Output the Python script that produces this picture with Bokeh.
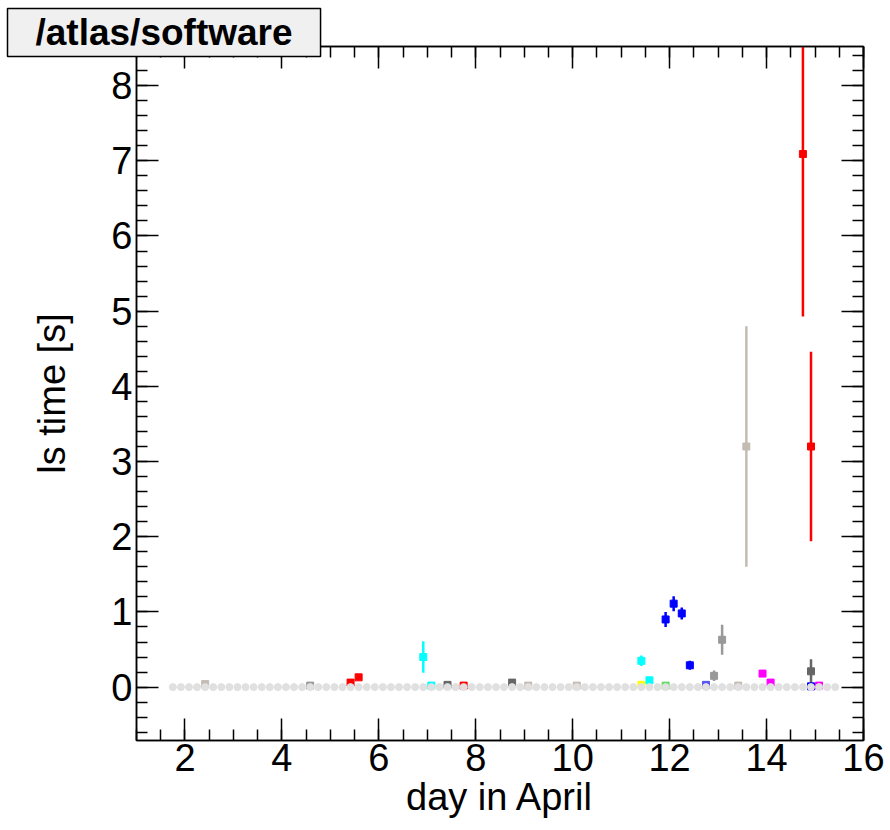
import numpy as np
from bokeh.plotting import figure
from bokeh.models import FixedTicker, LinearAxis, Range1d
from bokeh.embed import file_html
from bokeh.resources import INLINE

# ---- data (day in April, ls time [s], error) ----
# regular 4-hour time bins, all at zero (background series)
bin_start = 1.75
bin_step = 1.0 / 6
n_bins = 83
bin_days = bin_start + bin_step * np.arange(n_bins)
bin_vals = [0.0] * n_bins

red_days = [5.417, 5.583, 7.75, 14.75, 14.917]
red_vals = [0.06, 0.13, 0.02, 7.09, 3.20]
red_errs = [0.01, 0.02, 0.01, 2.16, 1.26]

cyan_days = [6.917, 7.083, 11.417, 11.583]
cyan_vals = [0.40, 0.02, 0.35, 0.09]
cyan_errs = [0.21, 0.01, 0.07, 0.03]

blue_days = [11.917, 12.083, 12.25, 12.417, 14.917]
blue_vals = [0.90, 1.11, 0.98, 0.29, 0.01]
blue_errs = [0.10, 0.10, 0.08, 0.06, 0.01]

slate_days = [12.75]
slate_vals = [0.03]
slate_errs = [0.01]

magenta_days = [13.917, 14.083, 15.083]
magenta_vals = [0.18, 0.06, 0.02]
magenta_errs = [0.03, 0.02, 0.01]

yellow_days = [11.417]
yellow_vals = [0.03]
yellow_errs = [0.01]

green_days = [11.917]
green_vals = [0.02]
green_errs = [0.01]

gray_days = [4.583, 12.917, 13.083]
gray_vals = [0.02, 0.15, 0.63]
gray_errs = [0.01, 0.07, 0.20]

dgray_days = [7.417, 8.75, 14.917]
dgray_vals = [0.03, 0.06, 0.21]
dgray_errs = [0.01, 0.02, 0.16]

tan_days = [2.417, 9.083, 10.083, 13.417, 13.583]
tan_vals = [0.04, 0.02, 0.02, 0.02, 3.20]
tan_errs = [0.01, 0.01, 0.01, 0.01, 1.60]

x_ticks = [2, 4, 6, 8, 10, 12, 14, 16]
y_ticks = [0, 1, 2, 3, 4, 5, 6, 7, 8]

series = [
    (tan_days, tan_vals, tan_errs, "#c4bbb3"),
    (gray_days, gray_vals, gray_errs, "#999999"),
    (dgray_days, dgray_vals, dgray_errs, "#666666"),
    (yellow_days, yellow_vals, yellow_errs, "#ffff00"),
    (green_days, green_vals, green_errs, "#66dd66"),
    (cyan_days, cyan_vals, cyan_errs, "#00ffff"),
    (blue_days, blue_vals, blue_errs, "#0000ff"),
    (slate_days, slate_vals, slate_errs, "#5555ee"),
    (magenta_days, magenta_vals, magenta_errs, "#ff00ff"),
    (red_days, red_vals, red_errs, "#ff0000"),
]

FONT = "Liberation Sans"

p = figure(width=890, height=830, output_backend="svg", toolbar_location=None,
           x_range=Range1d(1.0, 16.0), y_range=Range1d(-0.71, 8.52),
           min_border_left=136, min_border_right=27, min_border_top=46,
           min_border_bottom=90, title="/atlas/software")
p.background_fill_color = "white"
p.border_fill_color = "white"
p.outline_line_color = "black"
p.outline_line_width = 1.5
p.grid.visible = False

# title box (ROOT-style pave)
t = p.title
t.text_font = FONT
t.text_font_size = "37px"
t.text_font_style = "bold"
t.text_color = "black"
t.align = "left"
t.vertical_align = "bottom"
t.offset = -129
t.standoff = -20
t.background_fill_color = "#f0f0f0"
t.border_line_color = "black"
t.border_line_width = 1.5
t.padding = dict(left=28, right=28, top=3, bottom=4)

for d, v, e, c in series:
    d = np.array(d); v = np.array(v); e = np.array(e)
    p.segment(x0=d, y0=v - e, x1=d, y1=v + e, line_color=c, line_width=2.5)
    p.scatter(x=d, y=v, marker="square", size=7, fill_color=c, line_color=c)

p.scatter(x=bin_days, y=bin_vals, marker="circle", size=7,
          fill_color="#e0e0e0", line_color="#e0e0e0")

xt = FixedTicker(ticks=x_ticks, minor_ticks=list(np.arange(1.0, 16.01, 0.5)))
yt = FixedTicker(ticks=y_ticks, minor_ticks=list(np.round(np.arange(-0.6, 8.51, 0.2), 2)))


def style(ax, labels=True):
    ax.axis_line_color = "black"
    ax.axis_line_width = 1.5
    ax.major_tick_line_color = "black"
    ax.minor_tick_line_color = "black"
    ax.major_tick_line_width = 1.5
    ax.minor_tick_line_width = 1.5
    ax.major_tick_in = 22
    ax.major_tick_out = 0
    ax.minor_tick_in = 11
    ax.minor_tick_out = 0
    if labels:
        ax.major_label_text_font = FONT
        ax.major_label_text_font_size = "38px"
        ax.major_label_text_color = "black"
        ax.axis_label_text_font = FONT
        ax.axis_label_text_font_size = "38px"
        ax.axis_label_text_font_style = "normal"
        ax.axis_label_text_color = "black"
    else:
        ax.major_label_text_font_size = "1px"
        ax.major_label_text_color = None
        ax.major_label_standoff = 0


p.xaxis[0].ticker = xt
p.yaxis[0].ticker = yt
style(p.xaxis[0])
style(p.yaxis[0])
p.xaxis[0].major_label_standoff = 3
p.yaxis[0].major_label_standoff = 4
p.xaxis[0].axis_label = "day in April"
p.xaxis[0].axis_label_standoff = 2
p.yaxis[0].axis_label = "ls time [s]"
p.yaxis[0].axis_label_standoff = 35

top = LinearAxis(ticker=xt)
style(top, labels=False)
p.add_layout(top, "above")
right = LinearAxis(ticker=yt)
style(right, labels=False)
p.add_layout(right, "right")

open("out.html", "w").write(file_html(p, INLINE))
